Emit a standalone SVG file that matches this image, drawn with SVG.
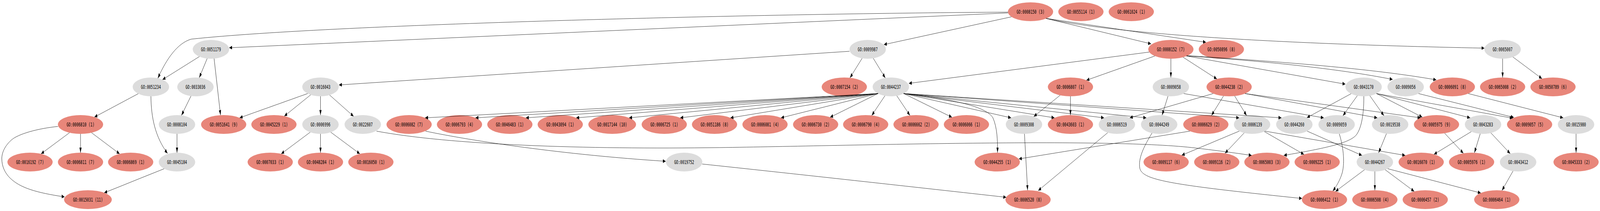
<svg xmlns="http://www.w3.org/2000/svg" width="7114" height="539" viewBox="0 0 7114 539" preserveAspectRatio="none">
<style>
@media (max-width:7100px){svg{width:100vw;height:100vh}}
.p{fill:#e8867a}
.g{fill:#dcdcdc}
text{font-family:"DejaVu Sans Mono","Liberation Mono",monospace;font-size:14.7px;text-anchor:middle;fill:#000}
#edges path{fill:none;stroke:#000;stroke-width:1;marker-end:url(#arr)}
</style>
<defs>
<marker id="arr" markerUnits="userSpaceOnUse" markerWidth="13" markerHeight="10" refX="13" refY="4.8" orient="auto">
<path d="M0,0 L13,4.8 L0,9.6 z" fill="#000"/>
</marker>
</defs>
<rect width="7114" height="539" fill="#fff"/>
<g id="nodes">
<g id="n0008150"><ellipse class="p" cx="4582" cy="30" rx="100.5" ry="24"/><text x="4582" y="35">GO:0008150 (3)</text></g>
<g id="n0055114"><ellipse class="p" cx="4806" cy="30" rx="100.5" ry="24"/><text x="4806" y="35">GO:0055114 (1)</text></g>
<g id="n0061024"><ellipse class="p" cx="5030" cy="30" rx="100.5" ry="24"/><text x="5030" y="35">GO:0061024 (1)</text></g>

<g id="n0051179"><ellipse class="g" cx="938" cy="126" rx="81" ry="24"/><text x="938" y="131">GO:0051179</text></g>
<g id="n0009987"><ellipse class="g" cx="3858" cy="126" rx="81" ry="24"/><text x="3858" y="131">GO:0009987</text></g>
<g id="n0008152"><ellipse class="p" cx="5206" cy="126" rx="100.5" ry="24"/><text x="5206" y="131">GO:0008152 (7)</text></g>
<g id="n0050896"><ellipse class="p" cx="5430.5" cy="126" rx="100.5" ry="24"/><text x="5430.5" y="131">GO:0050896 (8)</text></g>
<g id="n0065007"><ellipse class="g" cx="6681" cy="126" rx="81" ry="24"/><text x="6681" y="131">GO:0065007</text></g>

<g id="n0051234"><ellipse class="g" cx="671" cy="222" rx="81" ry="24"/><text x="671" y="227">GO:0051234</text></g>
<g id="n0033036"><ellipse class="g" cx="869" cy="222" rx="81" ry="24"/><text x="869" y="227">GO:0033036</text></g>
<g id="n0016043"><ellipse class="g" cx="1425" cy="222" rx="81" ry="24"/><text x="1425" y="227">GO:0016043</text></g>
<g id="n0007154"><ellipse class="p" cx="3754" cy="222" rx="100.5" ry="24"/><text x="3754" y="227">GO:0007154 (2)</text></g>
<g id="n0044237"><ellipse class="g" cx="3961" cy="222" rx="81" ry="24"/><text x="3961" y="227">GO:0044237</text></g>
<g id="n0006807"><ellipse class="p" cx="4759.5" cy="222" rx="100.5" ry="24"/><text x="4759.5" y="227">GO:0006807 (1)</text></g>
<g id="n0009058"><ellipse class="g" cx="5206" cy="222" rx="81" ry="24"/><text x="5206" y="227">GO:0009058</text></g>
<g id="n0044238"><ellipse class="p" cx="5465" cy="222" rx="100.5" ry="24"/><text x="5465" y="227">GO:0044238 (2)</text></g>
<g id="n0043170"><ellipse class="g" cx="6063" cy="222" rx="81" ry="24"/><text x="6063" y="227">GO:0043170</text></g>
<g id="n0009056"><ellipse class="g" cx="6250" cy="222" rx="81" ry="24"/><text x="6250" y="227">GO:0009056</text></g>
<g id="n0006091"><ellipse class="p" cx="6457.5" cy="222" rx="100.5" ry="24"/><text x="6457.5" y="227">GO:0006091 (8)</text></g>
<g id="n0065008"><ellipse class="p" cx="6681" cy="222" rx="100.5" ry="24"/><text x="6681" y="227">GO:0065008 (2)</text></g>
<g id="n0050789"><ellipse class="p" cx="6905" cy="222" rx="100.5" ry="24"/><text x="6905" y="227">GO:0050789 (6)</text></g>

<g id="n0006810"><ellipse class="p" cx="358" cy="318" rx="100.5" ry="24"/><text x="358" y="323">GO:0006810 (1)</text></g>
<g id="n0008104"><ellipse class="g" cx="787" cy="318" rx="81" ry="24"/><text x="787" y="323">GO:0008104</text></g>
<g id="n0051641"><ellipse class="p" cx="994.5" cy="318" rx="100.5" ry="24"/><text x="994.5" y="323">GO:0051641 (9)</text></g>
<g id="n0045229"><ellipse class="p" cx="1218" cy="318" rx="100.5" ry="24"/><text x="1218" y="323">GO:0045229 (1)</text></g>
<g id="n0006996"><ellipse class="g" cx="1425" cy="318" rx="81" ry="24"/><text x="1425" y="323">GO:0006996</text></g>
<g id="n0022607"><ellipse class="g" cx="1613" cy="318" rx="81" ry="24"/><text x="1613" y="323">GO:0022607</text></g>
<g id="n0006082"><ellipse class="p" cx="1819" cy="318" rx="100.5" ry="24"/><text x="1819" y="323">GO:0006082 (7)</text></g>
<g id="n0006793"><ellipse class="p" cx="2043" cy="318" rx="100.5" ry="24"/><text x="2043" y="323">GO:0006793 (4)</text></g>
<g id="n0046483"><ellipse class="p" cx="2267" cy="318" rx="100.5" ry="24"/><text x="2267" y="323">GO:0046483 (1)</text></g>
<g id="n0043094"><ellipse class="p" cx="2491" cy="318" rx="100.5" ry="24"/><text x="2491" y="323">GO:0043094 (1)</text></g>
<g id="n0017144"><ellipse class="p" cx="2722" cy="318" rx="106" ry="24"/><text x="2722" y="323">GO:0017144 (10)</text></g>
<g id="n0006725"><ellipse class="p" cx="2953.5" cy="318" rx="100.5" ry="24"/><text x="2953.5" y="323">GO:0006725 (1)</text></g>
<g id="n0051186"><ellipse class="p" cx="3177" cy="318" rx="100.5" ry="24"/><text x="3177" y="323">GO:0051186 (8)</text></g>
<g id="n0006081"><ellipse class="p" cx="3401.5" cy="318" rx="100.5" ry="24"/><text x="3401.5" y="323">GO:0006081 (4)</text></g>
<g id="n0006730"><ellipse class="p" cx="3626.5" cy="318" rx="100.5" ry="24"/><text x="3626.5" y="323">GO:0006730 (2)</text></g>
<g id="n0006790"><ellipse class="p" cx="3849" cy="318" rx="100.5" ry="24"/><text x="3849" y="323">GO:0006790 (4)</text></g>
<g id="n0006662"><ellipse class="p" cx="4073" cy="318" rx="100.5" ry="24"/><text x="4073" y="323">GO:0006662 (2)</text></g>
<g id="n0006066"><ellipse class="p" cx="4297" cy="318" rx="100.5" ry="24"/><text x="4297" y="323">GO:0006066 (1)</text></g>
<g id="n0009308"><ellipse class="g" cx="4553" cy="318" rx="81" ry="24"/><text x="4553" y="323">GO:0009308</text></g>
<g id="n0043603"><ellipse class="p" cx="4759.5" cy="318" rx="100.5" ry="24"/><text x="4759.5" y="323">GO:0043603 (1)</text></g>
<g id="n0006519"><ellipse class="g" cx="4966" cy="318" rx="81" ry="24"/><text x="4966" y="323">GO:0006519</text></g>
<g id="n0044249"><ellipse class="g" cx="5154" cy="318" rx="81" ry="24"/><text x="5154" y="323">GO:0044249</text></g>
<g id="n0006629"><ellipse class="p" cx="5361.5" cy="318" rx="100.5" ry="24"/><text x="5361.5" y="323">GO:0006629 (2)</text></g>
<g id="n0006139"><ellipse class="g" cx="5567" cy="318" rx="81" ry="24"/><text x="5567" y="323">GO:0006139</text></g>
<g id="n0044260"><ellipse class="g" cx="5755" cy="318" rx="81" ry="24"/><text x="5755" y="323">GO:0044260</text></g>
<g id="n0009059"><ellipse class="g" cx="5943" cy="318" rx="81" ry="24"/><text x="5943" y="323">GO:0009059</text></g>
<g id="n0019538"><ellipse class="g" cx="6181" cy="318" rx="81" ry="24"/><text x="6181" y="323">GO:0019538</text></g>
<g id="n0005975"><ellipse class="p" cx="6387" cy="318" rx="100.5" ry="24"/><text x="6387" y="323">GO:0005975 (9)</text></g>
<g id="n0043283"><ellipse class="g" cx="6594" cy="318" rx="81" ry="24"/><text x="6594" y="323">GO:0043283</text></g>
<g id="n0009057"><ellipse class="p" cx="6801" cy="318" rx="100.5" ry="24"/><text x="6801" y="323">GO:0009057 (5)</text></g>
<g id="n0015980"><ellipse class="g" cx="7007.6" cy="318" rx="81" ry="24"/><text x="7007.6" y="323">GO:0015980</text></g>

<g id="n0016192"><ellipse class="p" cx="133.5" cy="414" rx="100.5" ry="24"/><text x="133.5" y="419">GO:0016192 (7)</text></g>
<g id="n0006811"><ellipse class="p" cx="358" cy="414" rx="100.5" ry="24"/><text x="358" y="419">GO:0006811 (7)</text></g>
<g id="n0006869"><ellipse class="p" cx="581" cy="414" rx="100.5" ry="24"/><text x="581" y="419">GO:0006869 (1)</text></g>
<g id="n0045184"><ellipse class="g" cx="787" cy="414" rx="81" ry="24"/><text x="787" y="419">GO:0045184</text></g>
<g id="n0007033"><ellipse class="p" cx="1201.5" cy="414" rx="100.5" ry="24"/><text x="1201.5" y="419">GO:0007033 (1)</text></g>
<g id="n0048284"><ellipse class="p" cx="1425" cy="414" rx="100.5" ry="24"/><text x="1425" y="419">GO:0048284 (1)</text></g>
<g id="n0016050"><ellipse class="p" cx="1649" cy="414" rx="100.5" ry="24"/><text x="1649" y="419">GO:0016050 (1)</text></g>
<g id="n0019752"><ellipse class="g" cx="3042" cy="414" rx="81" ry="24"/><text x="3042" y="419">GO:0019752</text></g>
<g id="n0044255"><ellipse class="p" cx="4434" cy="414" rx="100.5" ry="24"/><text x="4434" y="419">GO:0044255 (1)</text></g>
<g id="n0009117"><ellipse class="p" cx="5185" cy="414" rx="100.5" ry="24"/><text x="5185" y="419">GO:0009117 (6)</text></g>
<g id="n0009116"><ellipse class="p" cx="5410" cy="414" rx="100.5" ry="24"/><text x="5410" y="419">GO:0009116 (2)</text></g>
<g id="n0065003"><ellipse class="p" cx="5633" cy="414" rx="100.5" ry="24"/><text x="5633" y="419">GO:0065003 (3)</text></g>
<g id="n0009225"><ellipse class="p" cx="5856.5" cy="414" rx="100.5" ry="24"/><text x="5856.5" y="419">GO:0009225 (1)</text></g>
<g id="n0044267"><ellipse class="g" cx="6113" cy="414" rx="81" ry="24"/><text x="6113" y="419">GO:0044267</text></g>
<g id="n0016070"><ellipse class="p" cx="6319" cy="414" rx="100.5" ry="24"/><text x="6319" y="419">GO:0016070 (1)</text></g>
<g id="n0005976"><ellipse class="p" cx="6543" cy="414" rx="100.5" ry="24"/><text x="6543" y="419">GO:0005976 (1)</text></g>
<g id="n0043412"><ellipse class="g" cx="6750" cy="414" rx="81" ry="24"/><text x="6750" y="419">GO:0043412</text></g>
<g id="n0045333"><ellipse class="p" cx="7007.6" cy="414" rx="100.5" ry="24"/><text x="7007.6" y="419">GO:0045333 (2)</text></g>

<g id="n0015031"><ellipse class="p" cx="391" cy="510" rx="106" ry="24"/><text x="391" y="515">GO:0015031 (11)</text></g>
<g id="n0006520"><ellipse class="p" cx="4571" cy="510" rx="100.5" ry="24"/><text x="4571" y="515">GO:0006520 (8)</text></g>
<g id="n0006412"><ellipse class="p" cx="5889" cy="510" rx="100.5" ry="24"/><text x="5889" y="515">GO:0006412 (1)</text></g>
<g id="n0006508"><ellipse class="p" cx="6113" cy="510" rx="100.5" ry="24"/><text x="6113" y="515">GO:0006508 (4)</text></g>
<g id="n0006457"><ellipse class="p" cx="6337" cy="510" rx="100.5" ry="24"/><text x="6337" y="515">GO:0006457 (2)</text></g>
<g id="n0006464"><ellipse class="p" cx="6655" cy="510" rx="100.5" ry="24"/><text x="6655" y="515">GO:0006464 (1)</text></g>
</g>
<g id="edges">
<path d="M4482,33 L1019,122"/>
<path d="M4482,31 C3500,34 1500,60 850,100 C790,110 740,150 702,200"/>
<path d="M4497,43 L3930,114"/>
<path d="M4650,47 L5118,112"/>
<path d="M4652,47 L5362,108"/>
<path d="M4652,47 C4900,80 5500,110 6600,123"/>
<path d="M886.5,144.5 L722.5,203.5"/>
<path d="M921.1,149.5 L885.9,198.5"/>
<path d="M951.9,149.6 L980.5,294.2"/>
<path d="M614.7,239.3 L419.8,299.1"/>
<path d="M671,246 C672,300 690,350 745,392"/>
<path d="M849.1,245.3 L806.9,294.7"/>
<path d="M787,342 L787,390"/>
<path d="M729.7,431 L463.3,492.5"/>
<path d="M309,339 L182.5,393"/>
<path d="M358,342 L358,390"/>
<path d="M407,339 L532,393"/>
<path d="M258,323 C170,328 80,342 50,358 C15,376 8,395 8,405 C8,425 22,442 45,455 C90,480 160,492 287,503"/>
<path d="M3777,131 L1507,217"/>
<path d="M3833.2,148.9 L3779.2,198.8"/>
<path d="M3882.8,148.9 L3936.2,199.1"/>
<path d="M1367.7,239 L1065.5,301"/>
<path d="M1381.4,242.2 L1264,296.7"/>
<path d="M1425,246 L1425,294"/>
<path d="M1465.6,242.8 L1572.4,297.2"/>
<path d="M1379,337.8 L1250.3,393"/>
<path d="M1425,342 L1425,390"/>
<path d="M1471,337.8 L1600.2,393"/>
<path d="M1674,335 C2000,370 2600,382 3200,377 S4900,352 5300,377 Q5450,387 5565,397"/>
<path d="M3903.7,239 L1890,301"/>
<path d="M3903.7,239 L2114,301"/>
<path d="M3903.7,239 L2338,301"/>
<path d="M3903.7,239 L2562,301"/>
<path d="M3903.7,239 L2797,301"/>
<path d="M3903.7,239 L3024.5,301"/>
<path d="M3903.7,239 L3248,301"/>
<path d="M3903.7,239 L3472.5,301"/>
<path d="M3903.7,239 L3690.8,299.6"/>
<path d="M3934.5,244.7 L3876,294.9"/>
<path d="M3987.5,244.7 L4046,294.9"/>
<path d="M4018.3,239 L4232.6,299.6"/>
<path d="M4018.3,239 L4495.7,301"/>
<path d="M4018.3,239 L4688.5,301"/>
<path d="M4018.3,239 L4908.7,301"/>
<path d="M4018.3,239 L5096.7,301"/>
<path d="M4018.3,239 L5509.7,301"/>
<path d="M4018.3,239 L5697.7,301"/>
<path d="M4018,239 C4250,255 4380,272 4414,300 C4434,325 4436,360 4435,390"/>
<path d="M1892,335 C2100,360 2500,395 2960,412"/>
<path d="M3122,419 C3500,442 4100,480 4474,504"/>
<path d="M4555,342 L4569,486"/>
<path d="M4925,339 L4616,487"/>
<path d="M5110,133 L4041,213"/>
<path d="M5135,143 L4830.5,205"/>
<path d="M5206,150 L5206,198"/>
<path d="M5260.4,146.2 L5410.6,201.8"/>
<path d="M5275,143 L5982,215"/>
<path d="M5276,143 C5600,155 5950,175 6192,203"/>
<path d="M5277,142 C5700,158 6100,175 6386,204"/>
<path d="M4713.6,243.3 L4596.5,297.8"/>
<path d="M4759.5,246 L4759.5,294"/>
<path d="M5193.2,245.7 L5166.8,294.3"/>
<path d="M5263.3,239 L5885.7,301"/>
<path d="M5394,239 L5023.3,301"/>
<path d="M5439.9,245.2 L5386.6,294.8"/>
<path d="M5489.7,245.2 L5542.7,295.1"/>
<path d="M5536,239 L6123.7,301"/>
<path d="M5536,239 L6316,301"/>
<path d="M5290.5,335 L4530,406"/>
<path d="M5122,340 C5085,375 5060,405 5068,430 C5080,460 5200,472 5789,507"/>
<path d="M5509.7,335 L5254.2,396.6"/>
<path d="M5531.7,339.6 L5446.6,391.6"/>
<path d="M5621,335.9 L5797.8,394.5"/>
<path d="M5624.3,335 L6248,397"/>
<path d="M5812.3,335 L6055.7,397"/>
<path d="M6007.2,239.4 L5810.8,300.6"/>
<path d="M6034.9,244.5 L5971.1,295.5"/>
<path d="M6090.7,244.5 L6153.3,295.5"/>
<path d="M6120.3,239 L6323.9,299.3"/>
<path d="M6120.3,239 L6536.7,301"/>
<path d="M6120.3,239 L6726,302"/>
<path d="M6064,246 C6064,300 6050,330 6030,345 C6000,365 5900,378 5708,397"/>
<path d="M6307.3,239 L6731,300"/>
<path d="M6528.5,239 L6950.3,301"/>
<path d="M6681,150 L6681,198"/>
<path d="M6727.1,145.7 L6856.1,201"/>
<path d="M5955,342 C5975,380 5980,420 5966,445 C5956,462 5942,476 5926,488"/>
<path d="M6164.4,341.5 L6129.6,390.5"/>
<path d="M6066.9,433.7 L5937.9,489"/>
<path d="M6113,438 L6113,486"/>
<path d="M6159.1,433.7 L6288.1,489"/>
<path d="M6170.3,431 L6584,493"/>
<path d="M6423.4,340.4 L6506.6,391.6"/>
<path d="M6541.6,336.3 L6375.7,394.2"/>
<path d="M6581.4,341.7 L6555.6,390.2"/>
<path d="M6629.1,339.6 L6714.9,392.4"/>
<path d="M6727.2,437 L6678.1,486.6"/>
<path d="M7007.6,342 L7007.6,390"/>
</g>
</svg>
